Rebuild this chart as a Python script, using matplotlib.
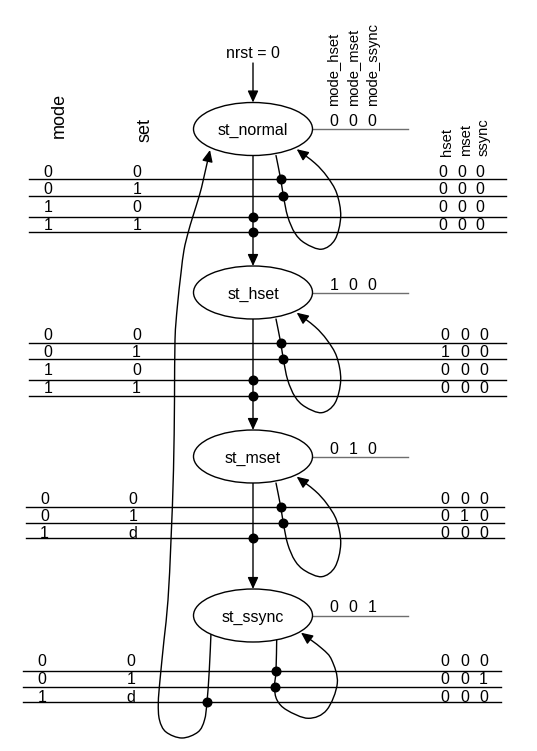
import numpy as np
import matplotlib
matplotlib.use("Agg")
import matplotlib.pyplot as plt
from matplotlib.path import Path
from matplotlib.patches import Ellipse, FancyArrowPatch

plt.rcParams['font.family'] = ['Liberation Sans', 'DejaVu Sans']

# ---- diagram content ----
state_names = ["st_normal", "st_hset", "st_mset", "st_ssync"]
state_regs = ["000", "100", "010", "001"]          # mode_hset mode_mset mode_ssync
reg_names = ["mode_hset", "mode_mset", "mode_ssync"]
in_names = ["mode", "set"]
out_names = ["hset", "mset", "ssync"]
reset_label = "nrst = 0"

mode_vals = [["0", "0", "1", "1"], ["0", "0", "1", "1"], ["0", "0", "1"], ["0", "0", "1"]]
set_vals = [["0", "1", "0", "1"], ["0", "1", "0", "1"], ["0", "1", "d"], ["0", "1", "d"]]
out_vals = [["000", "000", "000", "000"],
            ["000", "100", "000", "000"],
            ["000", "010", "000"],
            ["000", "001", "000"]]

# ---- layout (pixels, y downwards) ----
cx = 253
state_y = [129, 292.5, 456.5, 615.5]
ell_w, ell_h = 119, 53
row_y = [[171, 188, 206, 224], [334, 351, 369, 387], [498, 515, 532], [660, 678, 696]]
line_y = [[179, 195.5, 217, 232], [343, 359, 380, 396], [507, 523, 538], [671, 687, 702]]
in_x = [(48, 137), (48, 136.5), (44.5, 133), (42, 131)]
out_x = [(443, 461.5, 480), (445, 464.5, 483.5), (445, 464.5, 483.5), (445, 464.5, 483.5)]
line_x = [(29, 506), (28.5, 506), (26, 503.5), (23, 501)]
reg_x = (334, 353, 372)

# header baselines (rotated text): (x of baseline, y of text start)
in_head = [(63.3, 138.5), (150, 141.5)]
reg_head = [(337.5, 106), (357.5, 106), (377.5, 106)]
out_head = [(450.5, 156), (470.5, 156), (488, 156)]

# self loop shape relative to state centre
loop_rel = [(23, 26.5), (27.7, 50.2), (30.3, 66.5), (34.7, 87.5), (42, 104.2), (52, 114.2),
            (68.7, 120.2), (82, 110.5), (87.7, 87.5), (83.7, 64.2), (74, 47.5), (62, 34.2),
            (43.7, 20.2)]
loop_last = [(276.7, 639.3), (276, 671), (274.5, 687), (277, 700), (286.7, 710), (308.3, 718.3),
             (326.7, 710), (337.3, 683.3), (331.7, 660), (321.7, 648.3), (301, 632.7)]
back_pts = [(211, 633), (209.3, 670), (207, 702), (204.5, 720), (198, 732), (182, 738),
            (166, 732), (159.5, 720), (158.3, 703), (160, 680), (164, 640), (168, 600),
            (171, 540), (173.5, 470), (174.5, 400), (175, 340), (177.3, 307), (181, 273),
            (184, 250), (188.3, 232), (192.7, 217), (199.5, 195), (203.5, 179), (210, 150)]

FS = 11.5
HEAD = "-|>,head_length=7,head_width=3.2"


def smooth_path(pts):
    pts = np.asarray(pts, float)
    verts, codes = [pts[0]], [Path.MOVETO]
    n = len(pts)
    for i in range(n - 1):
        p0 = pts[max(i - 1, 0)]
        p1, p2 = pts[i], pts[i + 1]
        p3 = pts[min(i + 2, n - 1)]
        verts += [p1 + (p2 - p0) / 6, p2 - (p3 - p1) / 6, p2]
        codes += [Path.CURVE4] * 3
    return Path(verts, codes)


def curve_arrow(ax, pts):
    ax.add_patch(FancyArrowPatch(path=smooth_path(pts), arrowstyle=HEAD, color="black",
                                 lw=1.0, mutation_scale=1, zorder=2))


def vtext(ax, pos, s, size):
    ax.text(pos[0], pos[1], s, rotation=90, rotation_mode="anchor",
            ha="left", va="baseline", fontsize=size)


fig = plt.figure(figsize=(5.37, 7.51), dpi=100)
ax = fig.add_axes([0, 0, 1, 1])
ax.set_xlim(0, 537)
ax.set_ylim(751, 0)
ax.axis("off")

# headers
for name, pos in zip(in_names, in_head):
    vtext(ax, pos, name, 13)
for name, pos in zip(reg_names, reg_head):
    vtext(ax, pos, name, 10.6)
for name, pos in zip(out_names, out_head):
    vtext(ax, pos, name, 10.6)

# reset arrow
ax.text(cx, 52, reset_label, ha="center", va="center_baseline", fontsize=FS)
ax.add_patch(FancyArrowPatch((cx, 63), (cx, state_y[0] - ell_h / 2), arrowstyle=HEAD,
                             color="black", lw=1.0, mutation_scale=1, shrinkA=0, shrinkB=0))

for k, yc in enumerate(state_y):
    ax.add_patch(Ellipse((cx, yc), ell_w, ell_h, fc="white", ec="black", lw=1.0, zorder=3))
    ax.text(cx, yc, state_names[k], ha="center", va="center_baseline", fontsize=FS, zorder=4)
    ax.plot([cx + ell_w / 2, 408], [yc, yc], color="#6e6e6e", lw=1.0, zorder=2)
    for ch, x in zip(state_regs[k], reg_x):
        ax.text(x, yc - 9, ch, ha="center", va="center_baseline", fontsize=FS)

    # truth table
    x0, x1 = line_x[k]
    for r, (ty, ly) in enumerate(zip(row_y[k], line_y[k])):
        ax.text(in_x[k][0], ty, mode_vals[k][r], ha="center", va="center_baseline", fontsize=FS)
        ax.text(in_x[k][1], ty, set_vals[k][r], ha="center", va="center_baseline", fontsize=FS)
        for ch, x in zip(out_vals[k][r], out_x[k]):
            ax.text(x, ty, ch, ha="center", va="center_baseline", fontsize=FS)
        ax.plot([x0, x1], [ly, ly], color="black", lw=1.0, zorder=1)

    # self loop
    if k < 3:
        pts = [(cx + dx, yc + dy) for dx, dy in loop_rel]
    else:
        pts = loop_last
    curve_arrow(ax, pts)
    ax.plot([pts[1][0], pts[2][0]], [line_y[k][0], line_y[k][1]], "o", color="black",
            ms=6.2, zorder=5)

    # transition to next state
    if k < 3:
        ax.add_patch(FancyArrowPatch((cx, yc + ell_h / 2), (cx, state_y[k + 1] - ell_h / 2),
                                     arrowstyle=HEAD, color="black", lw=1.0, mutation_scale=1,
                                     shrinkA=0, shrinkB=0, zorder=2))
        ax.plot([cx] * len(line_y[k][2:]), line_y[k][2:], "o", color="black", ms=6.2, zorder=5)

# return to st_normal
curve_arrow(ax, back_pts)
ax.plot([back_pts[2][0]], [line_y[3][2]], "o", color="black", ms=6.2, zorder=5)

fig.savefig("out.png", dpi=100)
